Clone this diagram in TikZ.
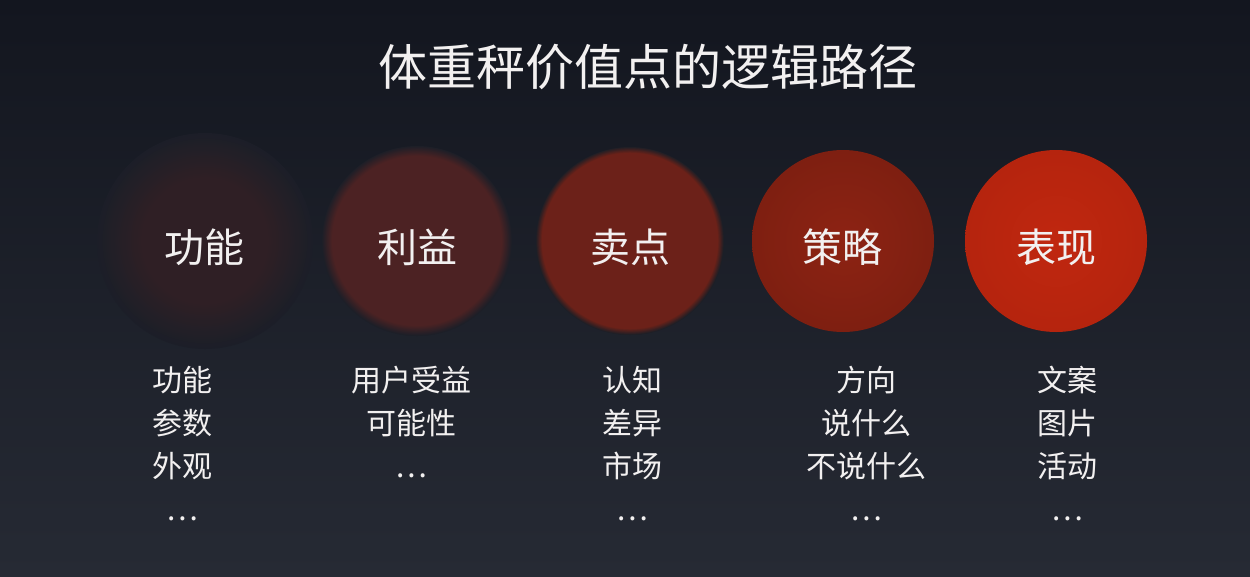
\documentclass[tikz,border=0pt]{standalone}
\usepackage{fontspec}
\setmainfont{Noto Sans CJK SC}
\definecolor{bgtop}{HTML}{13161F}
\definecolor{bgbot}{HTML}{262A34}
\colorlet{bgmid}{bgtop!58!bgbot}
\definecolor{cone}{HTML}{2F1F25}
\definecolor{ctwo}{HTML}{4C2223}
\definecolor{cthree}{HTML}{6C2119}
\definecolor{cfour}{HTML}{8D2313}
\definecolor{cfourout}{HTML}{7E1F11}
\definecolor{cfive}{HTML}{C0270F}
\definecolor{cfiveout}{HTML}{B5240E}
\definecolor{txt}{HTML}{F2F0F0}
% soft-edged disc: centre, radius, half blur width, colour
\newcommand\blurdisc[4]{%
  \foreach \k in {1,...,24}{%
    \pgfmathsetmacro\rad{#2+#3-2*#3*(\k-1)/23}%
    \pgfmathtruncatemacro\pc{100*\k/24}%
    \fill[#4!\pc!bgmid] (#1) circle[radius=\rad pt];
  }%
}
\tikzset{
  titletext/.style={font=\fontsize{49}{58}\selectfont, text=txt, anchor=base, inner sep=0pt},
  clabel/.style={font=\fontsize{40}{48}\selectfont, text=txt, anchor=base, inner sep=0pt},
  item/.style={font=\fontsize{30}{36}\selectfont, text=txt, anchor=base, inner sep=0pt},
}
\begin{document}
\begin{tikzpicture}[x=1pt,y=-1pt]
\useasboundingbox (0,0) rectangle (1250,576);
\shade[top color=bgtop, bottom color=bgbot] (0,0) rectangle (1250,576);

% title
\node[titletext] (title) at (648,85) {体重秤价值点的逻辑路径};

% circle centres
\coordinate (p1) at (205,241);
\coordinate (p2) at (417,241);
\coordinate (p3) at (630,241);
\coordinate (p4) at (843,241);
\coordinate (p5) at (1056,241);

% discs
\blurdisc{p1}{86}{22}{cone}
\blurdisc{p2}{90}{5}{ctwo}
\blurdisc{p3}{91}{3}{cthree}
\shade[inner color=cfour, outer color=cfourout] (p4) circle[radius=91pt];
\shade[inner color=cfive, outer color=cfiveout] (p5) circle[radius=91pt];

% circle labels
\node[clabel] (k1) at (204,262) {功能};
\node[clabel] (k2) at (417,262) {利益};
\node[clabel] (k3) at (630,262) {卖点};
\node[clabel] (k4) at (842,262) {策略};
\node[clabel] (k5) at (1056,262) {表现};

% lists
\node[item] (a1) at (182,391) {功能};
\node[item] (a2) at (182,434) {参数};
\node[item] (a3) at (182,477) {外观};
\node[item] (a4) at (182,520) {…};

\node[item] (b1) at (411,391) {用户受益};
\node[item] (b2) at (411,434) {可能性};
\node[item] (b3) at (411,477) {…};

\node[item] (c1) at (632,391) {认知};
\node[item] (c2) at (632,434) {差异};
\node[item] (c3) at (632,477) {市场};
\node[item] (c4) at (632,520) {…};

\node[item] (d1) at (866,391) {方向};
\node[item] (d2) at (866,434) {说什么};
\node[item] (d3) at (866,477) {不说什么};
\node[item] (d4) at (866,520) {…};

\node[item] (e1) at (1067,391) {文案};
\node[item] (e2) at (1067,434) {图片};
\node[item] (e3) at (1067,477) {活动};
\node[item] (e4) at (1067,520) {…};
\end{tikzpicture}
\end{document}
